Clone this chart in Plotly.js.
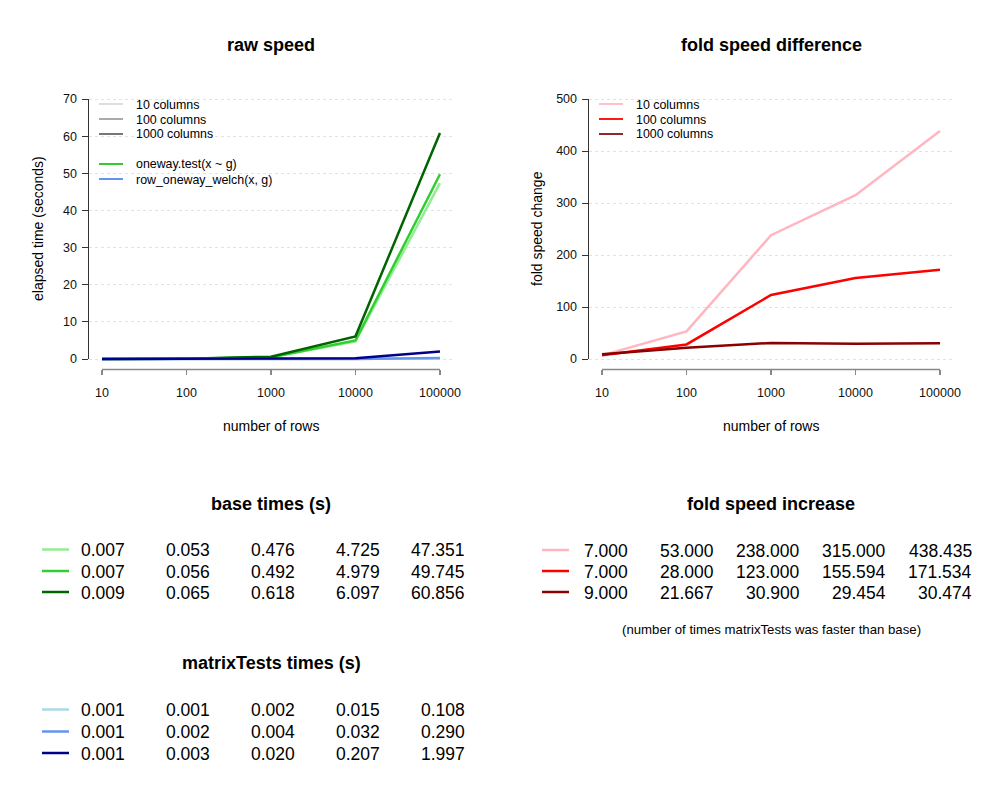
<!DOCTYPE html>
<html><head><meta charset="utf-8">
<script src="https://cdn.plot.ly/plotly-3.0.1.min.js"></script>
<style>html,body{margin:0;padding:0;background:#fff}</style>
</head><body><div id="chart" style="width:1000px;height:800px"></div>
<script>
// ---- data ----
const rows = [10, 100, 1000, 10000, 100000];
const colLabels = ['10 columns', '100 columns', '1000 columns'];
const methodLabels = ['oneway.test(x ~ g)', 'row_oneway_welch(x, g)'];
const baseTimes10 = [0.007, 0.053, 0.476, 4.725, 47.351];
const baseTimes100 = [0.007, 0.056, 0.492, 4.979, 49.745];
const baseTimes1000 = [0.009, 0.065, 0.618, 6.097, 60.856];
const mtTimes10 = [0.001, 0.001, 0.002, 0.015, 0.108];
const mtTimes100 = [0.001, 0.002, 0.004, 0.032, 0.290];
const mtTimes1000 = [0.001, 0.003, 0.020, 0.207, 1.997];
const fold10 = [7.000, 53.000, 238.000, 315.000, 438.435];
const fold100 = [7.000, 28.000, 123.000, 155.594, 171.534];
const fold1000 = [9.000, 21.667, 30.900, 29.454, 30.474];

// ---- styles ----
const baseColors = ['#90ee90', '#32cd32', '#006400'];
const mtColors = ['#add8e6', '#6495ed', '#00008b'];
const foldColors = ['#ffb6c1', '#ff0000', '#8b0000'];
const colKeyColors = ['#dedede', '#aaaaaa', '#777777'];
const methodKeyColors = ['#33cc33', '#6495ed'];
const foldKeyColors = ['#ffc0cb', '#ff1a1a', '#8b2a2a'];
const FONT = 'Liberation Sans, Arial, Helvetica, sans-serif';
const W = 1000, H = 800;
const px = v => v / W, py = v => 1 - v / H;
const LW = 2.5;

const baseSeries = [baseTimes10, baseTimes100, baseTimes1000];
const mtSeries = [mtTimes10, mtTimes100, mtTimes1000];
const foldSeries = [fold10, fold100, fold1000];

const traces = [];
baseSeries.forEach((s, i) => traces.push({x: rows, y: s, type: 'scatter', mode: 'lines', name: 'base ' + colLabels[i],
  line: {color: baseColors[i], width: LW}, xaxis: 'x', yaxis: 'y', showlegend: false, hoverinfo: 'skip'}));
mtSeries.forEach((s, i) => traces.push({x: rows, y: s, type: 'scatter', mode: 'lines', name: 'matrixTests ' + colLabels[i],
  line: {color: mtColors[i], width: LW}, xaxis: 'x', yaxis: 'y', showlegend: false, hoverinfo: 'skip'}));
foldSeries.forEach((s, i) => traces.push({x: rows, y: s, type: 'scatter', mode: 'lines', name: 'fold ' + colLabels[i],
  line: {color: foldColors[i], width: LW}, xaxis: 'x2', yaxis: 'y2', showlegend: false, hoverinfo: 'skip'}));

const logPad = 0.16;
const xRange = [Math.log10(rows[0]) - logPad, Math.log10(rows[rows.length - 1]) + logPad];
const yLeftMax = 70, yRightMax = 500;

function xAxis(domain, anchor) {
  return {type: 'log', domain: domain, range: xRange, anchor: anchor,
    tickmode: 'array', tickvals: rows, ticktext: rows.map(String),
    ticks: 'outside', ticklen: 5, tickwidth: 1.5, tickcolor: '#888888',
    showline: false, showgrid: false, zeroline: false,
    tickfont: {family: FONT, size: 12.5, color: '#111'}, ticklabelstandoff: 7, fixedrange: true};
}
function yAxis(maxv, step, anchor) {
  const pad = maxv * 0.04;
  return {domain: [py(369.4), py(88.6)], range: [-pad, maxv + pad], anchor: anchor,
    tickmode: 'linear', tick0: 0, dtick: step,
    ticks: 'outside', ticklen: 6, tickwidth: 1, tickcolor: '#333333',
    showline: false, zeroline: false, showgrid: true, gridcolor: '#e2e2e2', griddash: 'dot', gridwidth: 1,
    tickfont: {family: FONT, size: 12.5, color: '#111'}, ticklabelstandoff: 2, fixedrange: true};
}

const shapes = [
  {type: 'line', xref: 'x', yref: 'y domain', x0: rows[0], x1: rows[rows.length - 1], y0: 0, y1: 0, line: {color: '#888888', width: 1.5}},
  {type: 'line', xref: 'x domain', yref: 'y', x0: 0, x1: 0, y0: 0, y1: yLeftMax, line: {color: '#333333', width: 1}},
  {type: 'line', xref: 'x2', yref: 'y2 domain', x0: rows[0], x1: rows[rows.length - 1], y0: 0, y1: 0, line: {color: '#888888', width: 1.5}},
  {type: 'line', xref: 'x2 domain', yref: 'y2', x0: 0, x1: 0, y0: 0, y1: yRightMax, line: {color: '#333333', width: 1}}
];
const annotations = [];
function txt(text, x, y, size, opts) {
  annotations.push(Object.assign({text: text, x: px(x), y: py(y), xref: 'paper', yref: 'paper', showarrow: false,
    xanchor: 'center', yanchor: 'middle', font: {family: FONT, size: size, color: '#000'}}, opts || {}));
}
function keyLine(x0, x1, y, color, width) {
  shapes.push({type: 'line', xref: 'paper', yref: 'paper', x0: px(x0), x1: px(x1), y0: py(y), y1: py(y), line: {color: color, width: width}});
}

// titles
txt('<b>raw speed</b>', 271, 45, 18);
txt('<b>fold speed difference</b>', 771, 45, 18);
txt('number of rows', 271, 426, 14);
txt('number of rows', 771, 426, 14);
txt('elapsed time (seconds)', 38, 229, 14, {textangle: -90});
txt('fold speed change', 537, 229, 14, {textangle: -90});

// in-plot legends
const legRowsLeft = [104, 119, 134, 164, 179];
const legLeftLabels = colLabels.concat(methodLabels);
const legLeftColors = colKeyColors.concat(methodKeyColors);
legLeftLabels.forEach((l, i) => {
  keyLine(99, 123, legRowsLeft[i], legLeftColors[i], 2);
  txt(l, 134, legRowsLeft[i] + 0.5, 12.4, {xanchor: 'left'});
});
colLabels.forEach((l, i) => {
  keyLine(599, 623, legRowsLeft[i], foldKeyColors[i], 2);
  txt(l, 634, legRowsLeft[i] + 0.5, 12.4, {xanchor: 'left'});
});

// tables
function table(title, titleY, centerX, rowYs, keyX0, series, colors, colRight0, colStep) {
  txt('<b>' + title + '</b>', centerX, titleY, 18);
  series.forEach((s, i) => {
    keyLine(keyX0, keyX0 + 27, rowYs[i], colors[i], 2.5);
    s.forEach((v, j) => txt(v.toFixed(3), colRight0 + j * colStep, rowYs[i] + 0.5, 17.5, {xanchor: 'right'}));
  });
}
table('base times (s)', 504, 271, [549.5, 571, 592], 42, baseSeries, baseColors, 127, 85);
table('matrixTests times (s)', 663, 271, [709.5, 731.5, 753], 42, mtSeries, mtColors, 127, 85);
table('fold speed increase', 504, 771, [550, 571, 592], 542, foldSeries, foldColors, 630, 86);
txt('(number of times matrixTests was faster than base)', 771, 629, 13.2);

const layout = {
  width: W, height: H, autosize: false, margin: {l: 0, r: 0, t: 0, b: 0},
  paper_bgcolor: '#fff', plot_bgcolor: 'rgba(0,0,0,0)', showlegend: false,
  font: {family: FONT, color: '#000'},
  xaxis: xAxis([px(88.5), px(453.5)], 'y'),
  yaxis: yAxis(yLeftMax, 10, 'x'),
  xaxis2: xAxis([px(588.5), px(953.5)], 'y2'),
  yaxis2: yAxis(yRightMax, 100, 'x2'),
  shapes: shapes, annotations: annotations
};
Plotly.newPlot('chart', traces, layout, {displayModeBar: false, staticPlot: true});
</script></body></html>
